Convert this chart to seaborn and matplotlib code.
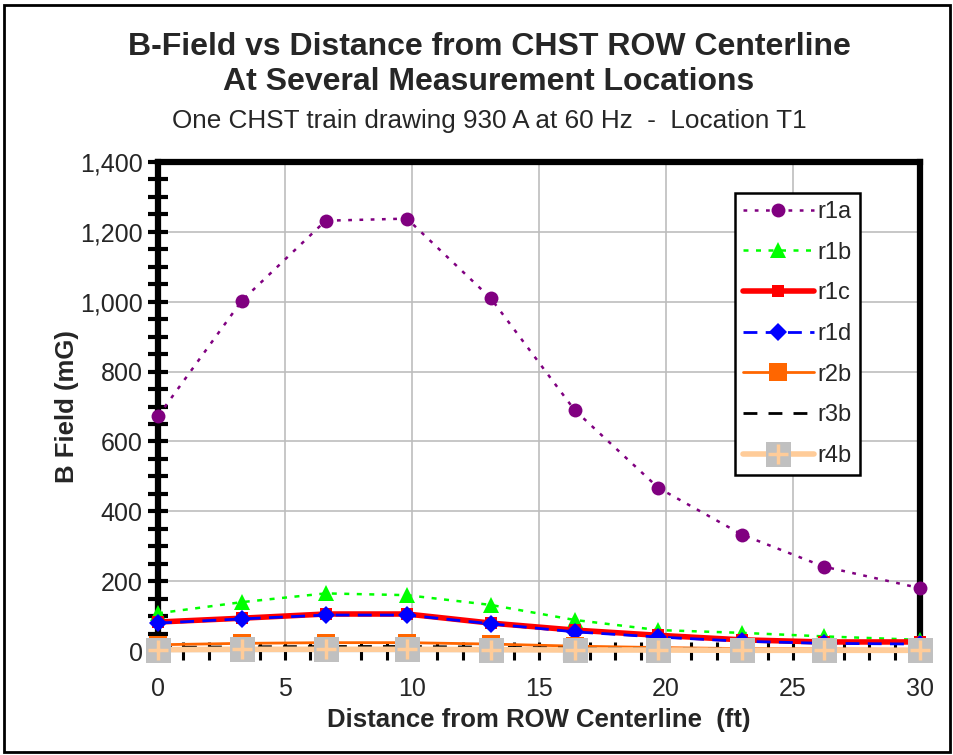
import numpy as np
import pandas as pd
import seaborn as sns
import matplotlib.pyplot as plt
from matplotlib.patches import Rectangle
from matplotlib.ticker import MultipleLocator, FuncFormatter
from matplotlib.legend_handler import HandlerTuple

sns.set_style("white")
plt.rcParams["font.family"] = ["Liberation Sans", "DejaVu Sans"]

# Distance from ROW centerline (ft)
distance = [0, 3.3, 6.6, 9.8, 13.1, 16.4, 19.7, 23.0, 26.2, 30.0]

# B field readings (mG) per measurement location
r1a = [672, 1003, 1232, 1238, 1010, 690, 467, 333, 242, 180]
r1b = [108, 140, 165, 160, 132, 89, 60, 52, 42, 32]
r1c = [83, 94, 106, 106, 80, 60, 45, 32, 26, 26]
r1d = [80, 92, 103, 103, 78, 55, 40, 28, 22, 20]
r2b = [18, 22, 24, 24, 20, 14, 10, 7, 6, 5]
r3b = [10, 12, 13, 13, 11, 8, 6, 5, 4, 4]
r4b = [4, 5, 5, 5, 4, 3, 3, 2, 2, 2]

series = {"r1a": r1a, "r1b": r1b, "r1c": r1c, "r1d": r1d,
          "r2b": r2b, "r3b": r3b, "r4b": r4b}

styles = {
    "r1a": dict(color="#800080", marker="o", ms=10, lw=1.8, dashes=(1.5, 3)),
    "r1b": dict(color="#00FF00", marker="^", ms=11, lw=1.8, dashes=(2, 3)),
    "r1c": dict(color="#FF0000", marker="s", ms=8, lw=4),
    "r1d": dict(color="#0000FF", marker="D", ms=9, lw=2, dashes=(5, 3)),
    "r2b": dict(color="#FF6600", marker="s", ms=13, lw=2),
    "r3b": dict(color="black", marker="", ms=0, lw=2, dashes=(5, 4)),
    "r4b": dict(color="#FFCC99", marker="s", ms=18, lw=4,
                mfc="#C0C0C0", mec="#C0C0C0"),
}

fig = plt.figure(figsize=(9.54, 7.55), dpi=100)
ax = fig.add_axes([0.1656, 0.1377, 0.7988, 0.6477])

handles = []
for name, vals in series.items():
    st = dict(styles[name])
    dashes = st.pop("dashes", None)
    df = pd.DataFrame({"x": distance, "y": vals})
    sns.lineplot(data=df, x="x", y="y", ax=ax, clip_on=False, zorder=3,
                 markeredgewidth=0, **st)
    line = ax.lines[-1]
    if dashes is not None:
        line.set_dashes(dashes)
    if name == "r4b":
        # grey square marker with a peach cross on top
        sns.lineplot(data=df, x="x", y="y", ax=ax, clip_on=False, zorder=4,
                     color="#FFCC99", marker="+", ms=14, mew=2.5,
                     mec="#FFCC99", lw=0)
        plus = ax.lines[-1]
        handles.append((line, plus))
    else:
        handles.append(line)

ax.set_xlim(0, 30)
ax.set_ylim(0, 1400)
ax.xaxis.set_major_locator(MultipleLocator(5))
ax.xaxis.set_minor_locator(MultipleLocator(1))
ax.yaxis.set_major_locator(MultipleLocator(200))
ax.yaxis.set_minor_locator(MultipleLocator(50))
ax.yaxis.set_major_formatter(FuncFormatter(lambda v, p: f"{int(v):,}"))
ax.grid(True, which="major", color="#BDBDBD", lw=1.2)
ax.set_axisbelow(True)

for side in ["left", "top", "right"]:
    ax.spines[side].set_linewidth(4.5)
    ax.spines[side].set_color("black")
ax.spines["bottom"].set_linewidth(1.5)
ax.spines["bottom"].set_color("black")

ax.tick_params(axis="y", which="both", left=True, direction="inout",
               length=14, width=3, color="black", labelsize=18, pad=4)
ax.tick_params(axis="x", which="both", bottom=True, direction="inout",
               length=13, width=2.2, color="black", labelsize=18, pad=12.5)

ax.set_xlabel("Distance from ROW Centerline  (ft)", fontsize=18.5,
              fontweight="bold", labelpad=5)
ax.set_ylabel("B Field (mG)", fontsize=18.5, fontweight="bold", labelpad=1)

leg = ax.legend(handles, list(series.keys()), loc="upper right",
                bbox_to_anchor=(0.921, 0.937), borderaxespad=0,
                fontsize=17, frameon=True, fancybox=False,
                edgecolor="black", framealpha=1,
                handlelength=3.0, labelspacing=0.79, borderpad=0.35,
                handletextpad=0.15,
                handler_map={tuple: HandlerTuple(ndivide=1, pad=0)})
leg.get_frame().set_linewidth(1.8)

fig.text(0.5126, 0.938, "B-Field vs Distance from CHST ROW Centerline",
         ha="center", va="center", fontsize=23, fontweight="bold")
fig.text(0.5126, 0.892, "At Several Measurement Locations",
         ha="center", va="center", fontsize=23, fontweight="bold")
fig.text(0.5126, 0.840, "One CHST train drawing 930 A at 60 Hz  -  Location T1",
         ha="center", va="center", fontsize=18.8)

fig.patches.append(Rectangle((0.004, 0.004), 0.992, 0.990,
                             transform=fig.transFigure, fill=False,
                             edgecolor="black", lw=2))

plt.savefig("out.png", dpi=100)
plt.close()
